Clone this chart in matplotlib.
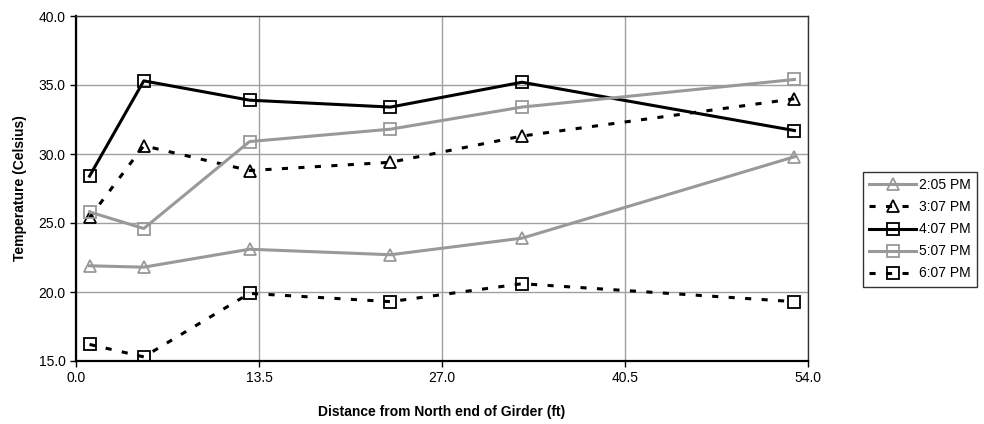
import numpy as np
import matplotlib.pyplot as plt

# distance along girder (ft) and temperatures (Celsius) at each reading time
distance = [1.0, 5.0, 12.8, 23.2, 32.9, 53.0]
t_205 = [21.9, 21.8, 23.1, 22.7, 23.9, 29.8]
t_307 = [25.4, 30.6, 28.8, 29.4, 31.3, 34.0]
t_407 = [28.4, 35.3, 33.9, 33.4, 35.2, 31.7]
t_507 = [25.8, 24.6, 30.9, 31.8, 33.4, 35.4]
t_607 = [16.2, 15.3, 19.9, 19.3, 20.6, 19.3]
times = ['2:05 PM', '3:07 PM', '4:07 PM', '5:07 PM', '6:07 PM']

x_ticks = [0.0, 13.5, 27.0, 40.5, 54.0]
y_ticks = [15.0, 20.0, 25.0, 30.0, 35.0, 40.0]

plt.rcParams['font.family'] = ['Liberation Sans', 'DejaVu Sans']

fig = plt.figure(figsize=(9.84, 4.24), dpi=100)
ax = fig.add_axes([76/984, 1-361/424, (808-76)/984, (361-16)/424])

gray = '#999999'
dashed = (0, (2, 3.4))
styles = [
    (t_205, gray, '-', '^'),
    (t_307, 'black', dashed, '^'),
    (t_407, 'black', '-', 's'),
    (t_507, gray, '-', 's'),
    (t_607, 'black', dashed, 's'),
]
for (vals, col, ls, mk), lab in zip(styles, times):
    ax.plot(distance, vals, color=col, linestyle=ls, lw=2.2, marker=mk,
            markersize=9, markerfacecolor='none', markeredgecolor=col,
            markeredgewidth=1.3, label=lab)

ax.set_xlim(0, 54)
ax.set_ylim(15, 40)
ax.set_xticks(x_ticks)
ax.set_yticks(y_ticks)
ax.set_xticklabels(['%.1f' % v for v in x_ticks])
ax.set_yticklabels(['%.1f' % v for v in y_ticks])
ax.grid(True, color='#a0a0a0', lw=1)
ax.set_axisbelow(True)
ax.tick_params(direction='out', length=4, width=1, labelsize=10, color='black')

for s in ['top', 'right']:
    ax.spines[s].set_linewidth(1)
    ax.spines[s].set_color('#333333')
for s in ['left', 'bottom']:
    ax.spines[s].set_linewidth(1.6)
    ax.spines[s].set_color('black')

ax.set_xlabel('Distance from North end of Girder (ft)', fontsize=10,
              fontweight='bold', labelpad=14)
ax.set_ylabel('Temperature (Celsius)', fontsize=10, fontweight='bold',
              labelpad=8)

leg = fig.legend(loc='upper left', bbox_to_anchor=(863/984, 1-172/424),
                 fontsize=10, frameon=True, fancybox=False, edgecolor='black',
                 handlelength=3.4, handletextpad=0.2, borderpad=0.45,
                 labelspacing=0.58, borderaxespad=0)
leg.get_frame().set_linewidth(1)

fig.savefig('out.png', dpi=100)
